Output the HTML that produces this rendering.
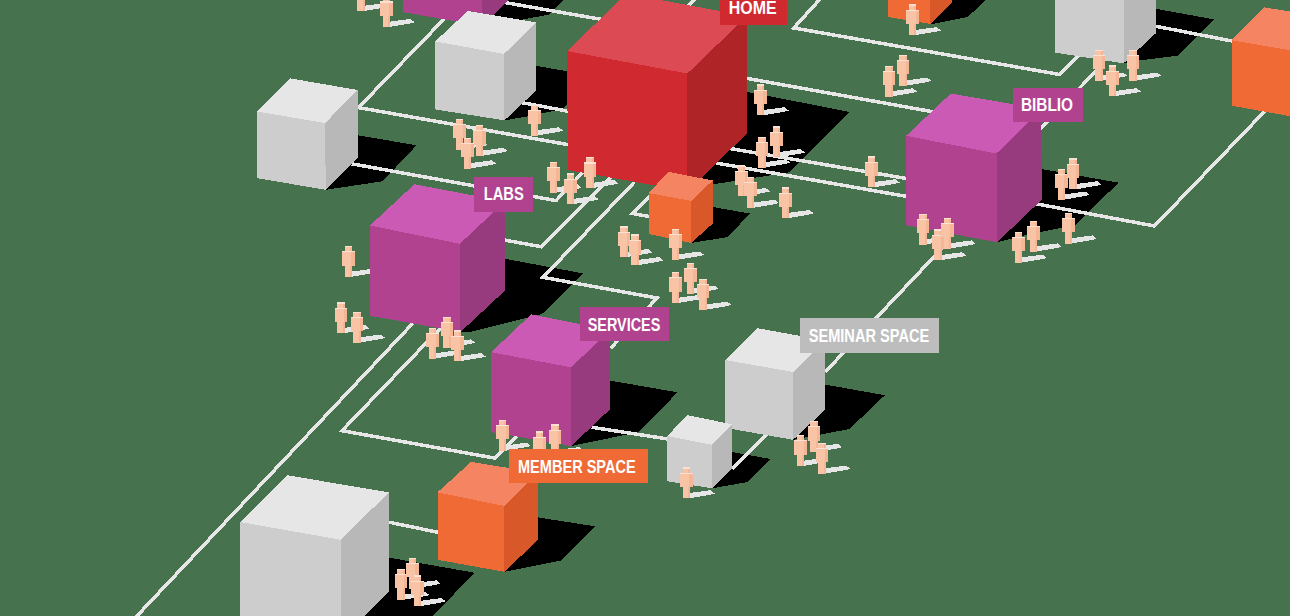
<!DOCTYPE html><html><head><meta charset="utf-8"><style>html,body{margin:0;padding:0;background:#47724e;overflow:hidden}svg{display:block}</style></head><body>
<svg width="1290" height="616" viewBox="0 0 1290 616" shape-rendering="crispEdges">
<rect width="1290" height="616" fill="#47724e"/>
<polygon points="482.0,26.0 510.0,-3.0 566.0,-3.0 549.5,14.5 520.0,20.0 500.0,30.0" fill="#000"/>
<polygon points="930.2,23.9 952.4,-2.0 988.0,-2.0 967.7,17.0 933.0,24.0" fill="#000"/>
<polygon points="1123.5,63.4 1156.0,33.1 1156.0,8.8 1214.5,19.5 1178.4,55.6 1139.4,60.4" fill="#000"/>
<polygon points="504.5,120.4 536.0,90.5 536.0,65.8 600.0,77.0 562.0,109.0 530.0,116.0" fill="#000"/>
<polygon points="687.4,191.5 746.9,133.5 746.9,91.8 850.0,112.0 789.5,172.3 700.0,186.4" fill="#000"/>
<polygon points="325.8,189.8 358.3,157.1 358.3,135.3 416.5,145.3 382.5,181.3" fill="#000"/>
<polygon points="997.1,242.3 1041.6,199.8 1041.5,169.0 1118.6,182.7 1075.0,225.0 1030.0,234.0" fill="#000"/>
<polygon points="691.1,243.0 712.7,223.6 712.7,207.0 749.7,213.5 728.0,237.0" fill="#000"/>
<polygon points="460.5,332.0 505.1,290.5 505.1,258.8 583.0,273.4 542.0,314.0 470.0,332.0" fill="#000"/>
<polygon points="571.2,446.0 610.2,409.1 610.2,380.6 677.5,392.3 639.0,432.0" fill="#000"/>
<polygon points="793.1,439.8 825.2,409.8 825.2,384.6 884.9,395.2 849.5,429.0" fill="#000"/>
<polygon points="712.0,488.3 732.1,468.2 732.1,452.0 770.7,459.0 747.5,482.1" fill="#000"/>
<polygon points="504.4,571.8 538.1,539.8 538.1,517.4 595.3,526.4 561.2,560.5" fill="#000"/>
<polygon points="340.3,640.0 388.4,591.6 388.4,557.5 474.4,572.7 410.0,640.0" fill="#000"/>
<polyline points="135.0,618.0 415.0,321.0" fill="none" stroke="#e7e7e7" stroke-width="3.5" stroke-linejoin="miter"/>
<polyline points="441.5,327.0 342.0,430.7 495.2,458.2 520.0,433.0" fill="none" stroke="#e7e7e7" stroke-width="3.5" stroke-linejoin="miter"/>
<polyline points="446.0,17.0 358.5,107.6 568.0,144.6" fill="none" stroke="#e7e7e7" stroke-width="3.5" stroke-linejoin="miter"/>
<polyline points="351.7,163.8 556.0,200.6 585.0,170.0" fill="none" stroke="#e7e7e7" stroke-width="3.5" stroke-linejoin="miter"/>
<polyline points="512.0,100.8 568.0,111.2" fill="none" stroke="#e7e7e7" stroke-width="3.5" stroke-linejoin="miter"/>
<polyline points="500.0,1.7 602.0,19.5" fill="none" stroke="#e7e7e7" stroke-width="3.5" stroke-linejoin="miter"/>
<polyline points="821.0,-2.0 793.8,28.0 1059.7,74.5 1080.0,54.0" fill="none" stroke="#e7e7e7" stroke-width="3.5" stroke-linejoin="miter"/>
<polyline points="746.0,78.2 933.0,111.8" fill="none" stroke="#e7e7e7" stroke-width="3.5" stroke-linejoin="miter"/>
<polyline points="730.0,148.5 907.0,178.6" fill="none" stroke="#e7e7e7" stroke-width="3.5" stroke-linejoin="miter"/>
<polyline points="716.0,163.0 907.0,196.5" fill="none" stroke="#e7e7e7" stroke-width="3.5" stroke-linejoin="miter"/>
<polyline points="1036.0,203.8 1154.5,226.0 1266.0,110.0" fill="none" stroke="#e7e7e7" stroke-width="3.5" stroke-linejoin="miter"/>
<polyline points="1040.0,129.0 1097.0,70.0" fill="none" stroke="#e7e7e7" stroke-width="3.5" stroke-linejoin="miter"/>
<polyline points="1156.0,26.3 1232.0,41.0" fill="none" stroke="#e7e7e7" stroke-width="3.5" stroke-linejoin="miter"/>
<polyline points="504.7,240.1 541.6,246.8 611.0,177.0" fill="none" stroke="#e7e7e7" stroke-width="3.5" stroke-linejoin="miter"/>
<polyline points="634.5,182.0 543.0,277.3 657.0,298.0 610.5,348.4" fill="none" stroke="#e7e7e7" stroke-width="3.5" stroke-linejoin="miter"/>
<polyline points="652.0,194.5 632.5,213.5 652.0,217.0" fill="none" stroke="#e7e7e7" stroke-width="3.5" stroke-linejoin="miter"/>
<polyline points="591.7,427.3 668.0,439.0" fill="none" stroke="#e7e7e7" stroke-width="3.5" stroke-linejoin="miter"/>
<polyline points="732.0,469.0 767.0,434.0" fill="none" stroke="#e7e7e7" stroke-width="3.5" stroke-linejoin="miter"/>
<polyline points="825.2,372.0 947.0,243.0" fill="none" stroke="#e7e7e7" stroke-width="3.5" stroke-linejoin="miter"/>
<polyline points="388.0,522.0 438.0,532.3" fill="none" stroke="#e7e7e7" stroke-width="3.5" stroke-linejoin="miter"/>
<polyline points="688.4,6.0 695.4,-1.0" fill="none" stroke="#e7e7e7" stroke-width="3.5" stroke-linejoin="miter"/>
<g transform="translate(354.5 -19.8)"><polygon points="9.7,25.6 30.4,22.8 34.7,26.2 29.8,27.4 9.7,30.8" fill="#e6e6e6"/></g>
<g transform="translate(380.0 -3.9)"><polygon points="9.7,25.6 30.4,22.8 34.7,26.2 29.8,27.4 9.7,30.8" fill="#e6e6e6"/></g>
<g transform="translate(453.4 118.8)"><polygon points="9.7,25.6 30.4,22.8 34.7,26.2 29.8,27.4 9.7,30.8" fill="#e6e6e6"/></g>
<g transform="translate(473.0 125.0)"><polygon points="9.7,25.6 30.4,22.8 34.7,26.2 29.8,27.4 9.7,30.8" fill="#e6e6e6"/></g>
<g transform="translate(461.4 137.5)"><polygon points="9.7,25.6 30.4,22.8 34.7,26.2 29.8,27.4 9.7,30.8" fill="#e6e6e6"/></g>
<g transform="translate(528.4 104.5)"><polygon points="9.7,25.6 30.4,22.8 34.7,26.2 29.8,27.4 9.7,30.8" fill="#e6e6e6"/></g>
<g transform="translate(547.1 161.6)"><polygon points="9.7,25.6 30.4,22.8 34.7,26.2 29.8,27.4 9.7,30.8" fill="#e6e6e6"/></g>
<g transform="translate(564.1 173.2)"><polygon points="9.7,25.6 30.4,22.8 34.7,26.2 29.8,27.4 9.7,30.8" fill="#e6e6e6"/></g>
<g transform="translate(583.8 157.1)"><polygon points="9.7,25.6 30.4,22.8 34.7,26.2 29.8,27.4 9.7,30.8" fill="#e6e6e6"/></g>
<g transform="translate(754.1 84.4)"><polygon points="9.7,25.6 30.4,22.8 34.7,26.2 29.8,27.4 9.7,30.8" fill="#e6e6e6"/></g>
<g transform="translate(770.1 126.3)"><polygon points="9.7,25.6 30.4,22.8 34.7,26.2 29.8,27.4 9.7,30.8" fill="#e6e6e6"/></g>
<g transform="translate(755.5 136.5)"><polygon points="9.7,25.6 30.4,22.8 34.7,26.2 29.8,27.4 9.7,30.8" fill="#e6e6e6"/></g>
<g transform="translate(735.3 165.2)"><polygon points="9.7,25.6 30.4,22.8 34.7,26.2 29.8,27.4 9.7,30.8" fill="#e6e6e6"/></g>
<g transform="translate(744.3 176.9)"><polygon points="9.7,25.6 30.4,22.8 34.7,26.2 29.8,27.4 9.7,30.8" fill="#e6e6e6"/></g>
<g transform="translate(779.2 187.2)"><polygon points="9.7,25.6 30.4,22.8 34.7,26.2 29.8,27.4 9.7,30.8" fill="#e6e6e6"/></g>
<g transform="translate(882.5 65.5)"><polygon points="9.7,25.6 30.4,22.8 34.7,26.2 29.8,27.4 9.7,30.8" fill="#e6e6e6"/></g>
<g transform="translate(896.8 54.8)"><polygon points="9.7,25.6 30.4,22.8 34.7,26.2 29.8,27.4 9.7,30.8" fill="#e6e6e6"/></g>
<g transform="translate(865.0 156.4)"><polygon points="9.7,25.6 30.4,22.8 34.7,26.2 29.8,27.4 9.7,30.8" fill="#e6e6e6"/></g>
<g transform="translate(906.3 4.3)"><polygon points="9.7,25.6 30.4,22.8 34.7,26.2 29.8,27.4 9.7,30.8" fill="#e6e6e6"/></g>
<g transform="translate(1092.6 49.7)"><polygon points="9.7,25.6 30.4,22.8 34.7,26.2 29.8,27.4 9.7,30.8" fill="#e6e6e6"/></g>
<g transform="translate(1106.3 65.3)"><polygon points="9.7,25.6 30.4,22.8 34.7,26.2 29.8,27.4 9.7,30.8" fill="#e6e6e6"/></g>
<g transform="translate(1126.7 49.7)"><polygon points="9.7,25.6 30.4,22.8 34.7,26.2 29.8,27.4 9.7,30.8" fill="#e6e6e6"/></g>
<g transform="translate(916.8 213.5)"><polygon points="9.7,25.6 30.4,22.8 34.7,26.2 29.8,27.4 9.7,30.8" fill="#e6e6e6"/></g>
<g transform="translate(931.7 229.4)"><polygon points="9.7,25.6 30.4,22.8 34.7,26.2 29.8,27.4 9.7,30.8" fill="#e6e6e6"/></g>
<g transform="translate(941.1 217.6)"><polygon points="9.7,25.6 30.4,22.8 34.7,26.2 29.8,27.4 9.7,30.8" fill="#e6e6e6"/></g>
<g transform="translate(1055.0 168.7)"><polygon points="9.7,25.6 30.4,22.8 34.7,26.2 29.8,27.4 9.7,30.8" fill="#e6e6e6"/></g>
<g transform="translate(1066.8 158.4)"><polygon points="9.7,25.6 30.4,22.8 34.7,26.2 29.8,27.4 9.7,30.8" fill="#e6e6e6"/></g>
<g transform="translate(1012.0 231.8)"><polygon points="9.7,25.6 30.4,22.8 34.7,26.2 29.8,27.4 9.7,30.8" fill="#e6e6e6"/></g>
<g transform="translate(1027.0 220.6)"><polygon points="9.7,25.6 30.4,22.8 34.7,26.2 29.8,27.4 9.7,30.8" fill="#e6e6e6"/></g>
<g transform="translate(1062.1 212.6)"><polygon points="9.7,25.6 30.4,22.8 34.7,26.2 29.8,27.4 9.7,30.8" fill="#e6e6e6"/></g>
<g transform="translate(617.5 226.2)"><polygon points="9.7,25.6 30.4,22.8 34.7,26.2 29.8,27.4 9.7,30.8" fill="#e6e6e6"/></g>
<g transform="translate(628.7 234.3)"><polygon points="9.7,25.6 30.4,22.8 34.7,26.2 29.8,27.4 9.7,30.8" fill="#e6e6e6"/></g>
<g transform="translate(669.4 228.7)"><polygon points="9.7,25.6 30.4,22.8 34.7,26.2 29.8,27.4 9.7,30.8" fill="#e6e6e6"/></g>
<g transform="translate(669.4 272.0)"><polygon points="9.7,25.6 30.4,22.8 34.7,26.2 29.8,27.4 9.7,30.8" fill="#e6e6e6"/></g>
<g transform="translate(684.0 262.7)"><polygon points="9.7,25.6 30.4,22.8 34.7,26.2 29.8,27.4 9.7,30.8" fill="#e6e6e6"/></g>
<g transform="translate(696.9 278.8)"><polygon points="9.7,25.6 30.4,22.8 34.7,26.2 29.8,27.4 9.7,30.8" fill="#e6e6e6"/></g>
<g transform="translate(342.0 246.0)"><polygon points="9.7,25.6 30.4,22.8 34.7,26.2 29.8,27.4 9.7,30.8" fill="#e6e6e6"/></g>
<g transform="translate(334.8 302.3)"><polygon points="9.7,25.6 30.4,22.8 34.7,26.2 29.8,27.4 9.7,30.8" fill="#e6e6e6"/></g>
<g transform="translate(350.5 311.7)"><polygon points="9.7,25.6 30.4,22.8 34.7,26.2 29.8,27.4 9.7,30.8" fill="#e6e6e6"/></g>
<g transform="translate(426.2 327.6)"><polygon points="9.7,25.6 30.4,22.8 34.7,26.2 29.8,27.4 9.7,30.8" fill="#e6e6e6"/></g>
<g transform="translate(440.6 316.6)"><polygon points="9.7,25.6 30.4,22.8 34.7,26.2 29.8,27.4 9.7,30.8" fill="#e6e6e6"/></g>
<g transform="translate(451.0 330.3)"><polygon points="9.7,25.6 30.4,22.8 34.7,26.2 29.8,27.4 9.7,30.8" fill="#e6e6e6"/></g>
<g transform="translate(496.4 419.8)"><polygon points="9.7,25.6 30.4,22.8 34.7,26.2 29.8,27.4 9.7,30.8" fill="#e6e6e6"/></g>
<g transform="translate(533.3 431.2)"><polygon points="9.7,25.6 30.4,22.8 34.7,26.2 29.8,27.4 9.7,30.8" fill="#e6e6e6"/></g>
<g transform="translate(548.9 424.2)"><polygon points="9.7,25.6 30.4,22.8 34.7,26.2 29.8,27.4 9.7,30.8" fill="#e6e6e6"/></g>
<g transform="translate(794.2 435.0)"><polygon points="9.7,25.6 30.4,22.8 34.7,26.2 29.8,27.4 9.7,30.8" fill="#e6e6e6"/></g>
<g transform="translate(807.5 421.0)"><polygon points="9.7,25.6 30.4,22.8 34.7,26.2 29.8,27.4 9.7,30.8" fill="#e6e6e6"/></g>
<g transform="translate(815.8 442.7)"><polygon points="9.7,25.6 30.4,22.8 34.7,26.2 29.8,27.4 9.7,30.8" fill="#e6e6e6"/></g>
<g transform="translate(680.0 467.4)"><polygon points="9.7,25.6 30.4,22.8 34.7,26.2 29.8,27.4 9.7,30.8" fill="#e6e6e6"/></g>
<g transform="translate(394.7 568.9)"><polygon points="9.7,25.6 30.4,22.8 34.7,26.2 29.8,27.4 9.7,30.8" fill="#e6e6e6"/></g>
<g transform="translate(406.0 557.5)"><polygon points="9.7,25.6 30.4,22.8 34.7,26.2 29.8,27.4 9.7,30.8" fill="#e6e6e6"/></g>
<g transform="translate(411.1 575.2)"><polygon points="9.7,25.6 30.4,22.8 34.7,26.2 29.8,27.4 9.7,30.8" fill="#e6e6e6"/></g>
<polygon points="402.5,-60.0 440.0,-90.0 515.0,-80.0 482.0,-48.0" fill="#ca5ab4"/>
<polygon points="402.5,-60.0 482.0,-48.0 482.0,26.0 402.5,12.0" fill="#b0428f"/>
<polygon points="482.0,-48.0 515.0,-80.0 512.0,-3.0 482.0,26.0" fill="#973b7e"/>
<polygon points="887.9,-30.0 910.0,-50.0 952.4,-45.0 930.2,-20.0" fill="#f58462"/>
<polygon points="887.9,-30.0 930.2,-20.0 930.2,23.9 887.9,17.0" fill="#ef6a35"/>
<polygon points="930.2,-20.0 952.4,-45.0 952.4,2.6 930.2,23.9" fill="#d8582a"/>
<polygon points="1055.2,-20.0 1080.0,-40.0 1156.0,-30.0 1123.5,-10.0" fill="#e6e6e6"/>
<polygon points="1055.2,-20.0 1123.5,-10.0 1123.5,63.4 1055.2,52.6" fill="#cdcdcd"/>
<polygon points="1123.5,-10.0 1156.0,-30.0 1156.0,33.1 1123.5,63.4" fill="#b8b8b8"/>
<polygon points="435.2,41.4 467.8,10.9 535.8,22.4 504.0,54.0" fill="#e6e6e6"/>
<polygon points="435.2,41.4 504.0,54.0 504.5,120.4 435.1,109.4" fill="#cdcdcd"/>
<polygon points="504.0,54.0 535.8,22.4 536.0,90.5 504.5,120.4" fill="#b8b8b8"/>
<polygon points="1231.7,40.2 1264.5,7.4 1330.0,18.0 1300.0,52.0" fill="#f58462"/>
<polygon points="1231.7,40.2 1300.0,52.0 1300.0,118.0 1231.7,105.7" fill="#ef6a35"/>
<polygon points="1300.0,52.0 1330.0,18.0 1330.0,84.0 1300.0,118.0" fill="#d8582a"/>
<polygon points="567.0,51.0 626.6,-6.4 746.9,16.2 687.4,73.5" fill="#dc4a53"/>
<polygon points="567.0,51.0 687.4,73.5 687.4,191.2 568.0,170.0" fill="#d02a30"/>
<polygon points="687.4,73.5 746.9,16.2 746.9,133.5 687.4,191.2" fill="#ae2427"/>
<polygon points="256.8,111.4 289.9,78.3 357.6,90.0 325.0,123.1" fill="#e6e6e6"/>
<polygon points="256.8,111.4 325.0,123.1 325.8,189.8 257.2,178.2" fill="#cdcdcd"/>
<polygon points="325.0,123.1 357.6,90.0 358.3,157.1 325.8,189.8" fill="#b8b8b8"/>
<polygon points="906.2,135.8 950.8,93.5 1041.4,109.0 996.5,153.5" fill="#ca5ab4"/>
<polygon points="906.2,135.8 996.5,153.5 997.1,242.3 906.4,225.3" fill="#b0428f"/>
<polygon points="996.5,153.5 1041.4,109.0 1041.6,199.8 997.1,242.3" fill="#973b7e"/>
<polygon points="648.6,193.0 668.4,171.8 712.7,180.5 691.1,200.9" fill="#f58462"/>
<polygon points="648.6,193.0 691.1,200.9 691.1,243.0 648.6,233.9" fill="#ef6a35"/>
<polygon points="691.1,200.9 712.7,180.5 712.7,223.6 691.1,243.0" fill="#d8582a"/>
<polygon points="369.9,225.5 414.4,184.2 505.0,201.5 459.8,243.8" fill="#ca5ab4"/>
<polygon points="369.9,225.5 459.8,243.8 460.5,332.0 370.5,315.8" fill="#b0428f"/>
<polygon points="459.8,243.8 505.0,201.5 505.1,290.5 460.5,332.0" fill="#973b7e"/>
<polygon points="491.2,352.2 531.1,314.4 610.2,330.0 571.2,367.3" fill="#ca5ab4"/>
<polygon points="491.2,352.2 571.2,367.3 571.2,446.0 491.2,432.0" fill="#b0428f"/>
<polygon points="571.2,367.3 610.2,330.0 610.2,409.1 571.2,446.0" fill="#973b7e"/>
<polygon points="725.1,360.0 757.2,328.1 825.2,340.5 793.1,372.0" fill="#e6e6e6"/>
<polygon points="725.1,360.0 793.1,372.0 793.1,439.8 725.1,427.8" fill="#cdcdcd"/>
<polygon points="793.1,372.0 825.2,340.5 825.2,409.8 793.1,439.8" fill="#b8b8b8"/>
<polygon points="667.1,436.0 687.6,415.2 732.1,424.3 711.6,444.7" fill="#e6e6e6"/>
<polygon points="667.1,436.0 711.6,444.7 712.0,488.3 667.3,481.3" fill="#cdcdcd"/>
<polygon points="711.6,444.7 732.1,424.3 732.1,468.2 712.0,488.3" fill="#b8b8b8"/>
<polygon points="437.5,492.3 471.1,461.9 538.1,472.8 504.2,506.0" fill="#f58462"/>
<polygon points="437.5,492.3 504.2,506.0 504.4,571.8 437.5,559.8" fill="#ef6a35"/>
<polygon points="504.2,506.0 538.1,472.8 538.1,539.8 504.4,571.8" fill="#d8582a"/>
<polygon points="240.3,522.0 287.1,475.2 389.0,492.4 340.5,539.7" fill="#e6e6e6"/>
<polygon points="240.3,522.0 340.5,539.7 340.5,640.0 240.3,621.0" fill="#cdcdcd"/>
<polygon points="340.5,539.7 389.0,492.4 389.0,591.6 340.5,640.0" fill="#b8b8b8"/>
<g transform="translate(354.5 -19.8)"><rect x="2.5" y="0" width="7.5" height="5.8" fill="#f8c4a5"/><rect x="0" y="5.3" width="12.5" height="14.2" fill="#f8c4a5"/><rect x="2.5" y="19.5" width="7.5" height="11.5" fill="#f8c4a5"/><rect x="8" y="0" width="2" height="5.8" fill="#f4b694"/><rect x="9.3" y="5.3" width="3.2" height="14.2" fill="#f4b694"/><rect x="8" y="19.5" width="2" height="11.5" fill="#f4b694"/><rect x="2.5" y="0" width="7.5" height="1.3" fill="#fbe1d2"/><rect x="0" y="5.3" width="12.5" height="1.1" fill="#fbe1d2"/></g>
<g transform="translate(380.0 -3.9)"><rect x="2.5" y="0" width="7.5" height="5.8" fill="#f8c4a5"/><rect x="0" y="5.3" width="12.5" height="14.2" fill="#f8c4a5"/><rect x="2.5" y="19.5" width="7.5" height="11.5" fill="#f8c4a5"/><rect x="8" y="0" width="2" height="5.8" fill="#f4b694"/><rect x="9.3" y="5.3" width="3.2" height="14.2" fill="#f4b694"/><rect x="8" y="19.5" width="2" height="11.5" fill="#f4b694"/><rect x="2.5" y="0" width="7.5" height="1.3" fill="#fbe1d2"/><rect x="0" y="5.3" width="12.5" height="1.1" fill="#fbe1d2"/></g>
<g transform="translate(453.4 118.8)"><rect x="2.5" y="0" width="7.5" height="5.8" fill="#f8c4a5"/><rect x="0" y="5.3" width="12.5" height="14.2" fill="#f8c4a5"/><rect x="2.5" y="19.5" width="7.5" height="11.5" fill="#f8c4a5"/><rect x="8" y="0" width="2" height="5.8" fill="#f4b694"/><rect x="9.3" y="5.3" width="3.2" height="14.2" fill="#f4b694"/><rect x="8" y="19.5" width="2" height="11.5" fill="#f4b694"/><rect x="2.5" y="0" width="7.5" height="1.3" fill="#fbe1d2"/><rect x="0" y="5.3" width="12.5" height="1.1" fill="#fbe1d2"/></g>
<g transform="translate(473.0 125.0)"><rect x="2.5" y="0" width="7.5" height="5.8" fill="#f8c4a5"/><rect x="0" y="5.3" width="12.5" height="14.2" fill="#f8c4a5"/><rect x="2.5" y="19.5" width="7.5" height="11.5" fill="#f8c4a5"/><rect x="8" y="0" width="2" height="5.8" fill="#f4b694"/><rect x="9.3" y="5.3" width="3.2" height="14.2" fill="#f4b694"/><rect x="8" y="19.5" width="2" height="11.5" fill="#f4b694"/><rect x="2.5" y="0" width="7.5" height="1.3" fill="#fbe1d2"/><rect x="0" y="5.3" width="12.5" height="1.1" fill="#fbe1d2"/></g>
<g transform="translate(461.4 137.5)"><rect x="2.5" y="0" width="7.5" height="5.8" fill="#f8c4a5"/><rect x="0" y="5.3" width="12.5" height="14.2" fill="#f8c4a5"/><rect x="2.5" y="19.5" width="7.5" height="11.5" fill="#f8c4a5"/><rect x="8" y="0" width="2" height="5.8" fill="#f4b694"/><rect x="9.3" y="5.3" width="3.2" height="14.2" fill="#f4b694"/><rect x="8" y="19.5" width="2" height="11.5" fill="#f4b694"/><rect x="2.5" y="0" width="7.5" height="1.3" fill="#fbe1d2"/><rect x="0" y="5.3" width="12.5" height="1.1" fill="#fbe1d2"/></g>
<g transform="translate(528.4 104.5)"><rect x="2.5" y="0" width="7.5" height="5.8" fill="#f8c4a5"/><rect x="0" y="5.3" width="12.5" height="14.2" fill="#f8c4a5"/><rect x="2.5" y="19.5" width="7.5" height="11.5" fill="#f8c4a5"/><rect x="8" y="0" width="2" height="5.8" fill="#f4b694"/><rect x="9.3" y="5.3" width="3.2" height="14.2" fill="#f4b694"/><rect x="8" y="19.5" width="2" height="11.5" fill="#f4b694"/><rect x="2.5" y="0" width="7.5" height="1.3" fill="#fbe1d2"/><rect x="0" y="5.3" width="12.5" height="1.1" fill="#fbe1d2"/></g>
<g transform="translate(547.1 161.6)"><rect x="2.5" y="0" width="7.5" height="5.8" fill="#f8c4a5"/><rect x="0" y="5.3" width="12.5" height="14.2" fill="#f8c4a5"/><rect x="2.5" y="19.5" width="7.5" height="11.5" fill="#f8c4a5"/><rect x="8" y="0" width="2" height="5.8" fill="#f4b694"/><rect x="9.3" y="5.3" width="3.2" height="14.2" fill="#f4b694"/><rect x="8" y="19.5" width="2" height="11.5" fill="#f4b694"/><rect x="2.5" y="0" width="7.5" height="1.3" fill="#fbe1d2"/><rect x="0" y="5.3" width="12.5" height="1.1" fill="#fbe1d2"/></g>
<g transform="translate(564.1 173.2)"><rect x="2.5" y="0" width="7.5" height="5.8" fill="#f8c4a5"/><rect x="0" y="5.3" width="12.5" height="14.2" fill="#f8c4a5"/><rect x="2.5" y="19.5" width="7.5" height="11.5" fill="#f8c4a5"/><rect x="8" y="0" width="2" height="5.8" fill="#f4b694"/><rect x="9.3" y="5.3" width="3.2" height="14.2" fill="#f4b694"/><rect x="8" y="19.5" width="2" height="11.5" fill="#f4b694"/><rect x="2.5" y="0" width="7.5" height="1.3" fill="#fbe1d2"/><rect x="0" y="5.3" width="12.5" height="1.1" fill="#fbe1d2"/></g>
<g transform="translate(583.8 157.1)"><rect x="2.5" y="0" width="7.5" height="5.8" fill="#f8c4a5"/><rect x="0" y="5.3" width="12.5" height="14.2" fill="#f8c4a5"/><rect x="2.5" y="19.5" width="7.5" height="11.5" fill="#f8c4a5"/><rect x="8" y="0" width="2" height="5.8" fill="#f4b694"/><rect x="9.3" y="5.3" width="3.2" height="14.2" fill="#f4b694"/><rect x="8" y="19.5" width="2" height="11.5" fill="#f4b694"/><rect x="2.5" y="0" width="7.5" height="1.3" fill="#fbe1d2"/><rect x="0" y="5.3" width="12.5" height="1.1" fill="#fbe1d2"/></g>
<g transform="translate(754.1 84.4)"><rect x="2.5" y="0" width="7.5" height="5.8" fill="#f8c4a5"/><rect x="0" y="5.3" width="12.5" height="14.2" fill="#f8c4a5"/><rect x="2.5" y="19.5" width="7.5" height="11.5" fill="#f8c4a5"/><rect x="8" y="0" width="2" height="5.8" fill="#f4b694"/><rect x="9.3" y="5.3" width="3.2" height="14.2" fill="#f4b694"/><rect x="8" y="19.5" width="2" height="11.5" fill="#f4b694"/><rect x="2.5" y="0" width="7.5" height="1.3" fill="#fbe1d2"/><rect x="0" y="5.3" width="12.5" height="1.1" fill="#fbe1d2"/></g>
<g transform="translate(770.1 126.3)"><rect x="2.5" y="0" width="7.5" height="5.8" fill="#f8c4a5"/><rect x="0" y="5.3" width="12.5" height="14.2" fill="#f8c4a5"/><rect x="2.5" y="19.5" width="7.5" height="11.5" fill="#f8c4a5"/><rect x="8" y="0" width="2" height="5.8" fill="#f4b694"/><rect x="9.3" y="5.3" width="3.2" height="14.2" fill="#f4b694"/><rect x="8" y="19.5" width="2" height="11.5" fill="#f4b694"/><rect x="2.5" y="0" width="7.5" height="1.3" fill="#fbe1d2"/><rect x="0" y="5.3" width="12.5" height="1.1" fill="#fbe1d2"/></g>
<g transform="translate(755.5 136.5)"><rect x="2.5" y="0" width="7.5" height="5.8" fill="#f8c4a5"/><rect x="0" y="5.3" width="12.5" height="14.2" fill="#f8c4a5"/><rect x="2.5" y="19.5" width="7.5" height="11.5" fill="#f8c4a5"/><rect x="8" y="0" width="2" height="5.8" fill="#f4b694"/><rect x="9.3" y="5.3" width="3.2" height="14.2" fill="#f4b694"/><rect x="8" y="19.5" width="2" height="11.5" fill="#f4b694"/><rect x="2.5" y="0" width="7.5" height="1.3" fill="#fbe1d2"/><rect x="0" y="5.3" width="12.5" height="1.1" fill="#fbe1d2"/></g>
<g transform="translate(735.3 165.2)"><rect x="2.5" y="0" width="7.5" height="5.8" fill="#f8c4a5"/><rect x="0" y="5.3" width="12.5" height="14.2" fill="#f8c4a5"/><rect x="2.5" y="19.5" width="7.5" height="11.5" fill="#f8c4a5"/><rect x="8" y="0" width="2" height="5.8" fill="#f4b694"/><rect x="9.3" y="5.3" width="3.2" height="14.2" fill="#f4b694"/><rect x="8" y="19.5" width="2" height="11.5" fill="#f4b694"/><rect x="2.5" y="0" width="7.5" height="1.3" fill="#fbe1d2"/><rect x="0" y="5.3" width="12.5" height="1.1" fill="#fbe1d2"/></g>
<g transform="translate(744.3 176.9)"><rect x="2.5" y="0" width="7.5" height="5.8" fill="#f8c4a5"/><rect x="0" y="5.3" width="12.5" height="14.2" fill="#f8c4a5"/><rect x="2.5" y="19.5" width="7.5" height="11.5" fill="#f8c4a5"/><rect x="8" y="0" width="2" height="5.8" fill="#f4b694"/><rect x="9.3" y="5.3" width="3.2" height="14.2" fill="#f4b694"/><rect x="8" y="19.5" width="2" height="11.5" fill="#f4b694"/><rect x="2.5" y="0" width="7.5" height="1.3" fill="#fbe1d2"/><rect x="0" y="5.3" width="12.5" height="1.1" fill="#fbe1d2"/></g>
<g transform="translate(779.2 187.2)"><rect x="2.5" y="0" width="7.5" height="5.8" fill="#f8c4a5"/><rect x="0" y="5.3" width="12.5" height="14.2" fill="#f8c4a5"/><rect x="2.5" y="19.5" width="7.5" height="11.5" fill="#f8c4a5"/><rect x="8" y="0" width="2" height="5.8" fill="#f4b694"/><rect x="9.3" y="5.3" width="3.2" height="14.2" fill="#f4b694"/><rect x="8" y="19.5" width="2" height="11.5" fill="#f4b694"/><rect x="2.5" y="0" width="7.5" height="1.3" fill="#fbe1d2"/><rect x="0" y="5.3" width="12.5" height="1.1" fill="#fbe1d2"/></g>
<g transform="translate(882.5 65.5)"><rect x="2.5" y="0" width="7.5" height="5.8" fill="#f8c4a5"/><rect x="0" y="5.3" width="12.5" height="14.2" fill="#f8c4a5"/><rect x="2.5" y="19.5" width="7.5" height="11.5" fill="#f8c4a5"/><rect x="8" y="0" width="2" height="5.8" fill="#f4b694"/><rect x="9.3" y="5.3" width="3.2" height="14.2" fill="#f4b694"/><rect x="8" y="19.5" width="2" height="11.5" fill="#f4b694"/><rect x="2.5" y="0" width="7.5" height="1.3" fill="#fbe1d2"/><rect x="0" y="5.3" width="12.5" height="1.1" fill="#fbe1d2"/></g>
<g transform="translate(896.8 54.8)"><rect x="2.5" y="0" width="7.5" height="5.8" fill="#f8c4a5"/><rect x="0" y="5.3" width="12.5" height="14.2" fill="#f8c4a5"/><rect x="2.5" y="19.5" width="7.5" height="11.5" fill="#f8c4a5"/><rect x="8" y="0" width="2" height="5.8" fill="#f4b694"/><rect x="9.3" y="5.3" width="3.2" height="14.2" fill="#f4b694"/><rect x="8" y="19.5" width="2" height="11.5" fill="#f4b694"/><rect x="2.5" y="0" width="7.5" height="1.3" fill="#fbe1d2"/><rect x="0" y="5.3" width="12.5" height="1.1" fill="#fbe1d2"/></g>
<g transform="translate(865.0 156.4)"><rect x="2.5" y="0" width="7.5" height="5.8" fill="#f8c4a5"/><rect x="0" y="5.3" width="12.5" height="14.2" fill="#f8c4a5"/><rect x="2.5" y="19.5" width="7.5" height="11.5" fill="#f8c4a5"/><rect x="8" y="0" width="2" height="5.8" fill="#f4b694"/><rect x="9.3" y="5.3" width="3.2" height="14.2" fill="#f4b694"/><rect x="8" y="19.5" width="2" height="11.5" fill="#f4b694"/><rect x="2.5" y="0" width="7.5" height="1.3" fill="#fbe1d2"/><rect x="0" y="5.3" width="12.5" height="1.1" fill="#fbe1d2"/></g>
<g transform="translate(906.3 4.3)"><rect x="2.5" y="0" width="7.5" height="5.8" fill="#f8c4a5"/><rect x="0" y="5.3" width="12.5" height="14.2" fill="#f8c4a5"/><rect x="2.5" y="19.5" width="7.5" height="11.5" fill="#f8c4a5"/><rect x="8" y="0" width="2" height="5.8" fill="#f4b694"/><rect x="9.3" y="5.3" width="3.2" height="14.2" fill="#f4b694"/><rect x="8" y="19.5" width="2" height="11.5" fill="#f4b694"/><rect x="2.5" y="0" width="7.5" height="1.3" fill="#fbe1d2"/><rect x="0" y="5.3" width="12.5" height="1.1" fill="#fbe1d2"/></g>
<g transform="translate(1092.6 49.7)"><rect x="2.5" y="0" width="7.5" height="5.8" fill="#f8c4a5"/><rect x="0" y="5.3" width="12.5" height="14.2" fill="#f8c4a5"/><rect x="2.5" y="19.5" width="7.5" height="11.5" fill="#f8c4a5"/><rect x="8" y="0" width="2" height="5.8" fill="#f4b694"/><rect x="9.3" y="5.3" width="3.2" height="14.2" fill="#f4b694"/><rect x="8" y="19.5" width="2" height="11.5" fill="#f4b694"/><rect x="2.5" y="0" width="7.5" height="1.3" fill="#fbe1d2"/><rect x="0" y="5.3" width="12.5" height="1.1" fill="#fbe1d2"/></g>
<g transform="translate(1106.3 65.3)"><rect x="2.5" y="0" width="7.5" height="5.8" fill="#f8c4a5"/><rect x="0" y="5.3" width="12.5" height="14.2" fill="#f8c4a5"/><rect x="2.5" y="19.5" width="7.5" height="11.5" fill="#f8c4a5"/><rect x="8" y="0" width="2" height="5.8" fill="#f4b694"/><rect x="9.3" y="5.3" width="3.2" height="14.2" fill="#f4b694"/><rect x="8" y="19.5" width="2" height="11.5" fill="#f4b694"/><rect x="2.5" y="0" width="7.5" height="1.3" fill="#fbe1d2"/><rect x="0" y="5.3" width="12.5" height="1.1" fill="#fbe1d2"/></g>
<g transform="translate(1126.7 49.7)"><rect x="2.5" y="0" width="7.5" height="5.8" fill="#f8c4a5"/><rect x="0" y="5.3" width="12.5" height="14.2" fill="#f8c4a5"/><rect x="2.5" y="19.5" width="7.5" height="11.5" fill="#f8c4a5"/><rect x="8" y="0" width="2" height="5.8" fill="#f4b694"/><rect x="9.3" y="5.3" width="3.2" height="14.2" fill="#f4b694"/><rect x="8" y="19.5" width="2" height="11.5" fill="#f4b694"/><rect x="2.5" y="0" width="7.5" height="1.3" fill="#fbe1d2"/><rect x="0" y="5.3" width="12.5" height="1.1" fill="#fbe1d2"/></g>
<g transform="translate(916.8 213.5)"><rect x="2.5" y="0" width="7.5" height="5.8" fill="#f8c4a5"/><rect x="0" y="5.3" width="12.5" height="14.2" fill="#f8c4a5"/><rect x="2.5" y="19.5" width="7.5" height="11.5" fill="#f8c4a5"/><rect x="8" y="0" width="2" height="5.8" fill="#f4b694"/><rect x="9.3" y="5.3" width="3.2" height="14.2" fill="#f4b694"/><rect x="8" y="19.5" width="2" height="11.5" fill="#f4b694"/><rect x="2.5" y="0" width="7.5" height="1.3" fill="#fbe1d2"/><rect x="0" y="5.3" width="12.5" height="1.1" fill="#fbe1d2"/></g>
<g transform="translate(931.7 229.4)"><rect x="2.5" y="0" width="7.5" height="5.8" fill="#f8c4a5"/><rect x="0" y="5.3" width="12.5" height="14.2" fill="#f8c4a5"/><rect x="2.5" y="19.5" width="7.5" height="11.5" fill="#f8c4a5"/><rect x="8" y="0" width="2" height="5.8" fill="#f4b694"/><rect x="9.3" y="5.3" width="3.2" height="14.2" fill="#f4b694"/><rect x="8" y="19.5" width="2" height="11.5" fill="#f4b694"/><rect x="2.5" y="0" width="7.5" height="1.3" fill="#fbe1d2"/><rect x="0" y="5.3" width="12.5" height="1.1" fill="#fbe1d2"/></g>
<g transform="translate(941.1 217.6)"><rect x="2.5" y="0" width="7.5" height="5.8" fill="#f8c4a5"/><rect x="0" y="5.3" width="12.5" height="14.2" fill="#f8c4a5"/><rect x="2.5" y="19.5" width="7.5" height="11.5" fill="#f8c4a5"/><rect x="8" y="0" width="2" height="5.8" fill="#f4b694"/><rect x="9.3" y="5.3" width="3.2" height="14.2" fill="#f4b694"/><rect x="8" y="19.5" width="2" height="11.5" fill="#f4b694"/><rect x="2.5" y="0" width="7.5" height="1.3" fill="#fbe1d2"/><rect x="0" y="5.3" width="12.5" height="1.1" fill="#fbe1d2"/></g>
<g transform="translate(1055.0 168.7)"><rect x="2.5" y="0" width="7.5" height="5.8" fill="#f8c4a5"/><rect x="0" y="5.3" width="12.5" height="14.2" fill="#f8c4a5"/><rect x="2.5" y="19.5" width="7.5" height="11.5" fill="#f8c4a5"/><rect x="8" y="0" width="2" height="5.8" fill="#f4b694"/><rect x="9.3" y="5.3" width="3.2" height="14.2" fill="#f4b694"/><rect x="8" y="19.5" width="2" height="11.5" fill="#f4b694"/><rect x="2.5" y="0" width="7.5" height="1.3" fill="#fbe1d2"/><rect x="0" y="5.3" width="12.5" height="1.1" fill="#fbe1d2"/></g>
<g transform="translate(1066.8 158.4)"><rect x="2.5" y="0" width="7.5" height="5.8" fill="#f8c4a5"/><rect x="0" y="5.3" width="12.5" height="14.2" fill="#f8c4a5"/><rect x="2.5" y="19.5" width="7.5" height="11.5" fill="#f8c4a5"/><rect x="8" y="0" width="2" height="5.8" fill="#f4b694"/><rect x="9.3" y="5.3" width="3.2" height="14.2" fill="#f4b694"/><rect x="8" y="19.5" width="2" height="11.5" fill="#f4b694"/><rect x="2.5" y="0" width="7.5" height="1.3" fill="#fbe1d2"/><rect x="0" y="5.3" width="12.5" height="1.1" fill="#fbe1d2"/></g>
<g transform="translate(1012.0 231.8)"><rect x="2.5" y="0" width="7.5" height="5.8" fill="#f8c4a5"/><rect x="0" y="5.3" width="12.5" height="14.2" fill="#f8c4a5"/><rect x="2.5" y="19.5" width="7.5" height="11.5" fill="#f8c4a5"/><rect x="8" y="0" width="2" height="5.8" fill="#f4b694"/><rect x="9.3" y="5.3" width="3.2" height="14.2" fill="#f4b694"/><rect x="8" y="19.5" width="2" height="11.5" fill="#f4b694"/><rect x="2.5" y="0" width="7.5" height="1.3" fill="#fbe1d2"/><rect x="0" y="5.3" width="12.5" height="1.1" fill="#fbe1d2"/></g>
<g transform="translate(1027.0 220.6)"><rect x="2.5" y="0" width="7.5" height="5.8" fill="#f8c4a5"/><rect x="0" y="5.3" width="12.5" height="14.2" fill="#f8c4a5"/><rect x="2.5" y="19.5" width="7.5" height="11.5" fill="#f8c4a5"/><rect x="8" y="0" width="2" height="5.8" fill="#f4b694"/><rect x="9.3" y="5.3" width="3.2" height="14.2" fill="#f4b694"/><rect x="8" y="19.5" width="2" height="11.5" fill="#f4b694"/><rect x="2.5" y="0" width="7.5" height="1.3" fill="#fbe1d2"/><rect x="0" y="5.3" width="12.5" height="1.1" fill="#fbe1d2"/></g>
<g transform="translate(1062.1 212.6)"><rect x="2.5" y="0" width="7.5" height="5.8" fill="#f8c4a5"/><rect x="0" y="5.3" width="12.5" height="14.2" fill="#f8c4a5"/><rect x="2.5" y="19.5" width="7.5" height="11.5" fill="#f8c4a5"/><rect x="8" y="0" width="2" height="5.8" fill="#f4b694"/><rect x="9.3" y="5.3" width="3.2" height="14.2" fill="#f4b694"/><rect x="8" y="19.5" width="2" height="11.5" fill="#f4b694"/><rect x="2.5" y="0" width="7.5" height="1.3" fill="#fbe1d2"/><rect x="0" y="5.3" width="12.5" height="1.1" fill="#fbe1d2"/></g>
<g transform="translate(617.5 226.2)"><rect x="2.5" y="0" width="7.5" height="5.8" fill="#f8c4a5"/><rect x="0" y="5.3" width="12.5" height="14.2" fill="#f8c4a5"/><rect x="2.5" y="19.5" width="7.5" height="11.5" fill="#f8c4a5"/><rect x="8" y="0" width="2" height="5.8" fill="#f4b694"/><rect x="9.3" y="5.3" width="3.2" height="14.2" fill="#f4b694"/><rect x="8" y="19.5" width="2" height="11.5" fill="#f4b694"/><rect x="2.5" y="0" width="7.5" height="1.3" fill="#fbe1d2"/><rect x="0" y="5.3" width="12.5" height="1.1" fill="#fbe1d2"/></g>
<g transform="translate(628.7 234.3)"><rect x="2.5" y="0" width="7.5" height="5.8" fill="#f8c4a5"/><rect x="0" y="5.3" width="12.5" height="14.2" fill="#f8c4a5"/><rect x="2.5" y="19.5" width="7.5" height="11.5" fill="#f8c4a5"/><rect x="8" y="0" width="2" height="5.8" fill="#f4b694"/><rect x="9.3" y="5.3" width="3.2" height="14.2" fill="#f4b694"/><rect x="8" y="19.5" width="2" height="11.5" fill="#f4b694"/><rect x="2.5" y="0" width="7.5" height="1.3" fill="#fbe1d2"/><rect x="0" y="5.3" width="12.5" height="1.1" fill="#fbe1d2"/></g>
<g transform="translate(669.4 228.7)"><rect x="2.5" y="0" width="7.5" height="5.8" fill="#f8c4a5"/><rect x="0" y="5.3" width="12.5" height="14.2" fill="#f8c4a5"/><rect x="2.5" y="19.5" width="7.5" height="11.5" fill="#f8c4a5"/><rect x="8" y="0" width="2" height="5.8" fill="#f4b694"/><rect x="9.3" y="5.3" width="3.2" height="14.2" fill="#f4b694"/><rect x="8" y="19.5" width="2" height="11.5" fill="#f4b694"/><rect x="2.5" y="0" width="7.5" height="1.3" fill="#fbe1d2"/><rect x="0" y="5.3" width="12.5" height="1.1" fill="#fbe1d2"/></g>
<g transform="translate(669.4 272.0)"><rect x="2.5" y="0" width="7.5" height="5.8" fill="#f8c4a5"/><rect x="0" y="5.3" width="12.5" height="14.2" fill="#f8c4a5"/><rect x="2.5" y="19.5" width="7.5" height="11.5" fill="#f8c4a5"/><rect x="8" y="0" width="2" height="5.8" fill="#f4b694"/><rect x="9.3" y="5.3" width="3.2" height="14.2" fill="#f4b694"/><rect x="8" y="19.5" width="2" height="11.5" fill="#f4b694"/><rect x="2.5" y="0" width="7.5" height="1.3" fill="#fbe1d2"/><rect x="0" y="5.3" width="12.5" height="1.1" fill="#fbe1d2"/></g>
<g transform="translate(684.0 262.7)"><rect x="2.5" y="0" width="7.5" height="5.8" fill="#f8c4a5"/><rect x="0" y="5.3" width="12.5" height="14.2" fill="#f8c4a5"/><rect x="2.5" y="19.5" width="7.5" height="11.5" fill="#f8c4a5"/><rect x="8" y="0" width="2" height="5.8" fill="#f4b694"/><rect x="9.3" y="5.3" width="3.2" height="14.2" fill="#f4b694"/><rect x="8" y="19.5" width="2" height="11.5" fill="#f4b694"/><rect x="2.5" y="0" width="7.5" height="1.3" fill="#fbe1d2"/><rect x="0" y="5.3" width="12.5" height="1.1" fill="#fbe1d2"/></g>
<g transform="translate(696.9 278.8)"><rect x="2.5" y="0" width="7.5" height="5.8" fill="#f8c4a5"/><rect x="0" y="5.3" width="12.5" height="14.2" fill="#f8c4a5"/><rect x="2.5" y="19.5" width="7.5" height="11.5" fill="#f8c4a5"/><rect x="8" y="0" width="2" height="5.8" fill="#f4b694"/><rect x="9.3" y="5.3" width="3.2" height="14.2" fill="#f4b694"/><rect x="8" y="19.5" width="2" height="11.5" fill="#f4b694"/><rect x="2.5" y="0" width="7.5" height="1.3" fill="#fbe1d2"/><rect x="0" y="5.3" width="12.5" height="1.1" fill="#fbe1d2"/></g>
<g transform="translate(342.0 246.0)"><rect x="2.5" y="0" width="7.5" height="5.8" fill="#f8c4a5"/><rect x="0" y="5.3" width="12.5" height="14.2" fill="#f8c4a5"/><rect x="2.5" y="19.5" width="7.5" height="11.5" fill="#f8c4a5"/><rect x="8" y="0" width="2" height="5.8" fill="#f4b694"/><rect x="9.3" y="5.3" width="3.2" height="14.2" fill="#f4b694"/><rect x="8" y="19.5" width="2" height="11.5" fill="#f4b694"/><rect x="2.5" y="0" width="7.5" height="1.3" fill="#fbe1d2"/><rect x="0" y="5.3" width="12.5" height="1.1" fill="#fbe1d2"/></g>
<g transform="translate(334.8 302.3)"><rect x="2.5" y="0" width="7.5" height="5.8" fill="#f8c4a5"/><rect x="0" y="5.3" width="12.5" height="14.2" fill="#f8c4a5"/><rect x="2.5" y="19.5" width="7.5" height="11.5" fill="#f8c4a5"/><rect x="8" y="0" width="2" height="5.8" fill="#f4b694"/><rect x="9.3" y="5.3" width="3.2" height="14.2" fill="#f4b694"/><rect x="8" y="19.5" width="2" height="11.5" fill="#f4b694"/><rect x="2.5" y="0" width="7.5" height="1.3" fill="#fbe1d2"/><rect x="0" y="5.3" width="12.5" height="1.1" fill="#fbe1d2"/></g>
<g transform="translate(350.5 311.7)"><rect x="2.5" y="0" width="7.5" height="5.8" fill="#f8c4a5"/><rect x="0" y="5.3" width="12.5" height="14.2" fill="#f8c4a5"/><rect x="2.5" y="19.5" width="7.5" height="11.5" fill="#f8c4a5"/><rect x="8" y="0" width="2" height="5.8" fill="#f4b694"/><rect x="9.3" y="5.3" width="3.2" height="14.2" fill="#f4b694"/><rect x="8" y="19.5" width="2" height="11.5" fill="#f4b694"/><rect x="2.5" y="0" width="7.5" height="1.3" fill="#fbe1d2"/><rect x="0" y="5.3" width="12.5" height="1.1" fill="#fbe1d2"/></g>
<g transform="translate(426.2 327.6)"><rect x="2.5" y="0" width="7.5" height="5.8" fill="#f8c4a5"/><rect x="0" y="5.3" width="12.5" height="14.2" fill="#f8c4a5"/><rect x="2.5" y="19.5" width="7.5" height="11.5" fill="#f8c4a5"/><rect x="8" y="0" width="2" height="5.8" fill="#f4b694"/><rect x="9.3" y="5.3" width="3.2" height="14.2" fill="#f4b694"/><rect x="8" y="19.5" width="2" height="11.5" fill="#f4b694"/><rect x="2.5" y="0" width="7.5" height="1.3" fill="#fbe1d2"/><rect x="0" y="5.3" width="12.5" height="1.1" fill="#fbe1d2"/></g>
<g transform="translate(440.6 316.6)"><rect x="2.5" y="0" width="7.5" height="5.8" fill="#f8c4a5"/><rect x="0" y="5.3" width="12.5" height="14.2" fill="#f8c4a5"/><rect x="2.5" y="19.5" width="7.5" height="11.5" fill="#f8c4a5"/><rect x="8" y="0" width="2" height="5.8" fill="#f4b694"/><rect x="9.3" y="5.3" width="3.2" height="14.2" fill="#f4b694"/><rect x="8" y="19.5" width="2" height="11.5" fill="#f4b694"/><rect x="2.5" y="0" width="7.5" height="1.3" fill="#fbe1d2"/><rect x="0" y="5.3" width="12.5" height="1.1" fill="#fbe1d2"/></g>
<g transform="translate(451.0 330.3)"><rect x="2.5" y="0" width="7.5" height="5.8" fill="#f8c4a5"/><rect x="0" y="5.3" width="12.5" height="14.2" fill="#f8c4a5"/><rect x="2.5" y="19.5" width="7.5" height="11.5" fill="#f8c4a5"/><rect x="8" y="0" width="2" height="5.8" fill="#f4b694"/><rect x="9.3" y="5.3" width="3.2" height="14.2" fill="#f4b694"/><rect x="8" y="19.5" width="2" height="11.5" fill="#f4b694"/><rect x="2.5" y="0" width="7.5" height="1.3" fill="#fbe1d2"/><rect x="0" y="5.3" width="12.5" height="1.1" fill="#fbe1d2"/></g>
<g transform="translate(496.4 419.8)"><rect x="2.5" y="0" width="7.5" height="5.8" fill="#f8c4a5"/><rect x="0" y="5.3" width="12.5" height="14.2" fill="#f8c4a5"/><rect x="2.5" y="19.5" width="7.5" height="11.5" fill="#f8c4a5"/><rect x="8" y="0" width="2" height="5.8" fill="#f4b694"/><rect x="9.3" y="5.3" width="3.2" height="14.2" fill="#f4b694"/><rect x="8" y="19.5" width="2" height="11.5" fill="#f4b694"/><rect x="2.5" y="0" width="7.5" height="1.3" fill="#fbe1d2"/><rect x="0" y="5.3" width="12.5" height="1.1" fill="#fbe1d2"/></g>
<g transform="translate(533.3 431.2)"><rect x="2.5" y="0" width="7.5" height="5.8" fill="#f8c4a5"/><rect x="0" y="5.3" width="12.5" height="14.2" fill="#f8c4a5"/><rect x="2.5" y="19.5" width="7.5" height="11.5" fill="#f8c4a5"/><rect x="8" y="0" width="2" height="5.8" fill="#f4b694"/><rect x="9.3" y="5.3" width="3.2" height="14.2" fill="#f4b694"/><rect x="8" y="19.5" width="2" height="11.5" fill="#f4b694"/><rect x="2.5" y="0" width="7.5" height="1.3" fill="#fbe1d2"/><rect x="0" y="5.3" width="12.5" height="1.1" fill="#fbe1d2"/></g>
<g transform="translate(548.9 424.2)"><rect x="2.5" y="0" width="7.5" height="5.8" fill="#f8c4a5"/><rect x="0" y="5.3" width="12.5" height="14.2" fill="#f8c4a5"/><rect x="2.5" y="19.5" width="7.5" height="11.5" fill="#f8c4a5"/><rect x="8" y="0" width="2" height="5.8" fill="#f4b694"/><rect x="9.3" y="5.3" width="3.2" height="14.2" fill="#f4b694"/><rect x="8" y="19.5" width="2" height="11.5" fill="#f4b694"/><rect x="2.5" y="0" width="7.5" height="1.3" fill="#fbe1d2"/><rect x="0" y="5.3" width="12.5" height="1.1" fill="#fbe1d2"/></g>
<g transform="translate(794.2 435.0)"><rect x="2.5" y="0" width="7.5" height="5.8" fill="#f8c4a5"/><rect x="0" y="5.3" width="12.5" height="14.2" fill="#f8c4a5"/><rect x="2.5" y="19.5" width="7.5" height="11.5" fill="#f8c4a5"/><rect x="8" y="0" width="2" height="5.8" fill="#f4b694"/><rect x="9.3" y="5.3" width="3.2" height="14.2" fill="#f4b694"/><rect x="8" y="19.5" width="2" height="11.5" fill="#f4b694"/><rect x="2.5" y="0" width="7.5" height="1.3" fill="#fbe1d2"/><rect x="0" y="5.3" width="12.5" height="1.1" fill="#fbe1d2"/></g>
<g transform="translate(807.5 421.0)"><rect x="2.5" y="0" width="7.5" height="5.8" fill="#f8c4a5"/><rect x="0" y="5.3" width="12.5" height="14.2" fill="#f8c4a5"/><rect x="2.5" y="19.5" width="7.5" height="11.5" fill="#f8c4a5"/><rect x="8" y="0" width="2" height="5.8" fill="#f4b694"/><rect x="9.3" y="5.3" width="3.2" height="14.2" fill="#f4b694"/><rect x="8" y="19.5" width="2" height="11.5" fill="#f4b694"/><rect x="2.5" y="0" width="7.5" height="1.3" fill="#fbe1d2"/><rect x="0" y="5.3" width="12.5" height="1.1" fill="#fbe1d2"/></g>
<g transform="translate(815.8 442.7)"><rect x="2.5" y="0" width="7.5" height="5.8" fill="#f8c4a5"/><rect x="0" y="5.3" width="12.5" height="14.2" fill="#f8c4a5"/><rect x="2.5" y="19.5" width="7.5" height="11.5" fill="#f8c4a5"/><rect x="8" y="0" width="2" height="5.8" fill="#f4b694"/><rect x="9.3" y="5.3" width="3.2" height="14.2" fill="#f4b694"/><rect x="8" y="19.5" width="2" height="11.5" fill="#f4b694"/><rect x="2.5" y="0" width="7.5" height="1.3" fill="#fbe1d2"/><rect x="0" y="5.3" width="12.5" height="1.1" fill="#fbe1d2"/></g>
<g transform="translate(680.0 467.4)"><rect x="2.5" y="0" width="7.5" height="5.8" fill="#f8c4a5"/><rect x="0" y="5.3" width="12.5" height="14.2" fill="#f8c4a5"/><rect x="2.5" y="19.5" width="7.5" height="11.5" fill="#f8c4a5"/><rect x="8" y="0" width="2" height="5.8" fill="#f4b694"/><rect x="9.3" y="5.3" width="3.2" height="14.2" fill="#f4b694"/><rect x="8" y="19.5" width="2" height="11.5" fill="#f4b694"/><rect x="2.5" y="0" width="7.5" height="1.3" fill="#fbe1d2"/><rect x="0" y="5.3" width="12.5" height="1.1" fill="#fbe1d2"/></g>
<g transform="translate(394.7 568.9)"><rect x="2.5" y="0" width="7.5" height="5.8" fill="#f8c4a5"/><rect x="0" y="5.3" width="12.5" height="14.2" fill="#f8c4a5"/><rect x="2.5" y="19.5" width="7.5" height="11.5" fill="#f8c4a5"/><rect x="8" y="0" width="2" height="5.8" fill="#f4b694"/><rect x="9.3" y="5.3" width="3.2" height="14.2" fill="#f4b694"/><rect x="8" y="19.5" width="2" height="11.5" fill="#f4b694"/><rect x="2.5" y="0" width="7.5" height="1.3" fill="#fbe1d2"/><rect x="0" y="5.3" width="12.5" height="1.1" fill="#fbe1d2"/></g>
<g transform="translate(406.0 557.5)"><rect x="2.5" y="0" width="7.5" height="5.8" fill="#f8c4a5"/><rect x="0" y="5.3" width="12.5" height="14.2" fill="#f8c4a5"/><rect x="2.5" y="19.5" width="7.5" height="11.5" fill="#f8c4a5"/><rect x="8" y="0" width="2" height="5.8" fill="#f4b694"/><rect x="9.3" y="5.3" width="3.2" height="14.2" fill="#f4b694"/><rect x="8" y="19.5" width="2" height="11.5" fill="#f4b694"/><rect x="2.5" y="0" width="7.5" height="1.3" fill="#fbe1d2"/><rect x="0" y="5.3" width="12.5" height="1.1" fill="#fbe1d2"/></g>
<g transform="translate(411.1 575.2)"><rect x="2.5" y="0" width="7.5" height="5.8" fill="#f8c4a5"/><rect x="0" y="5.3" width="12.5" height="14.2" fill="#f8c4a5"/><rect x="2.5" y="19.5" width="7.5" height="11.5" fill="#f8c4a5"/><rect x="8" y="0" width="2" height="5.8" fill="#f4b694"/><rect x="9.3" y="5.3" width="3.2" height="14.2" fill="#f4b694"/><rect x="8" y="19.5" width="2" height="11.5" fill="#f4b694"/><rect x="2.5" y="0" width="7.5" height="1.3" fill="#fbe1d2"/><rect x="0" y="5.3" width="12.5" height="1.1" fill="#fbe1d2"/></g>
<rect x="720.1" y="-9.2" width="66.6" height="34.0" fill="#d02a30"/>
<text x="728.7" y="14.2" font-family="Liberation Sans, sans-serif" font-weight="bold" font-size="17.6" fill="#fff" textLength="47.9" lengthAdjust="spacingAndGlyphs">HOME</text>
<rect x="1012.7" y="87.9" width="70.2" height="33.9" fill="#b0428f"/>
<text x="1020.9" y="111.3" font-family="Liberation Sans, sans-serif" font-weight="bold" font-size="17.6" fill="#fff" textLength="52.2" lengthAdjust="spacingAndGlyphs">BIBLIO</text>
<rect x="474.4" y="176.9" width="58.8" height="34.7" fill="#b0428f"/>
<text x="483.7" y="200.3" font-family="Liberation Sans, sans-serif" font-weight="bold" font-size="17.6" fill="#fff" textLength="40.0" lengthAdjust="spacingAndGlyphs">LABS</text>
<rect x="579.5" y="307.1" width="89.6" height="34.0" fill="#b0428f"/>
<text x="587.7" y="330.5" font-family="Liberation Sans, sans-serif" font-weight="bold" font-size="17.6" fill="#fff" textLength="72.6" lengthAdjust="spacingAndGlyphs">SERVICES</text>
<rect x="800.0" y="318.2" width="138.7" height="34.4" fill="#bdbdbd"/>
<text x="808.7" y="341.6" font-family="Liberation Sans, sans-serif" font-weight="bold" font-size="17.6" fill="#fff" textLength="120.5" lengthAdjust="spacingAndGlyphs">SEMINAR SPACE</text>
<rect x="509.4" y="449.2" width="138.7" height="34.1" fill="#ef6a35"/>
<text x="518.0" y="472.6" font-family="Liberation Sans, sans-serif" font-weight="bold" font-size="17.6" fill="#fff" textLength="117.7" lengthAdjust="spacingAndGlyphs">MEMBER SPACE</text>
</svg></body></html>
